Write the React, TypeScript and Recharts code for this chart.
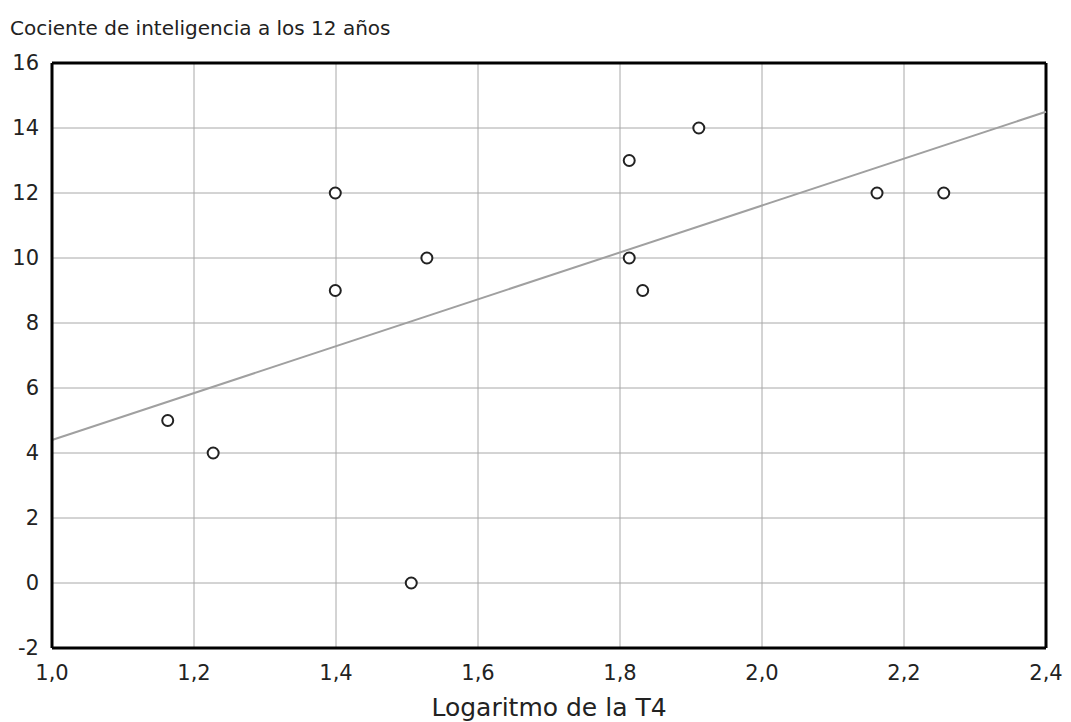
import {
  ScatterChart,
  Scatter,
  XAxis,
  YAxis,
  CartesianGrid,
  ReferenceLine,
} from 'recharts';

const logT4 = [1.163, 1.227, 1.399, 1.399, 1.506, 1.528, 1.813, 1.813, 1.832, 1.911, 2.162, 2.256];
const iq12 = [5, 4, 12, 9, 0, 10, 13, 10, 9, 14, 12, 12];

const xTicks = [1.0, 1.2, 1.4, 1.6, 1.8, 2.0, 2.2, 2.4];
const yTicks = [-2, 0, 2, 4, 6, 8, 10, 12, 14, 16];

// fitted line at both ends
const fitStart = { x: 1.0, y: 4.4 };
const fitEnd = { x: 2.4, y: 14.5 };

const FONT = '"DejaVu Sans", Verdana, sans-serif';
const GRID = '#a8a8a8';
const FRAME = '#000';
const TEXT = '#222';

const points = logT4.map((x, i) => ({ x, y: iq12[i] }));

const fmt = (v: number) => v.toFixed(1).replace('.', ',');

function Ring(props: any) {
  const { cx, cy } = props;
  return <circle cx={cx} cy={cy} r={5.5} fill="#fff" stroke="#222" strokeWidth={2} />;
}

export default function App() {
  return (
    <div style={{ position: 'absolute', left: 0, top: 0, width: 1071, height: 722, background: '#fff', fontFamily: FONT }}>
      <div style={{ position: 'absolute', left: 10, top: 16, fontSize: 20, color: TEXT, fontFamily: FONT }}>
        Cociente de inteligencia a los 12 años
      </div>
      <ScatterChart width={1071} height={722} margin={{ top: 63, right: 25, left: 0, bottom: 0 }}>
        <CartesianGrid stroke={GRID} strokeWidth={1} />
        <XAxis
          type="number"
          dataKey="x"
          domain={[1.0, 2.4]}
          ticks={xTicks}
          tickFormatter={fmt}
          tickSize={0}
          tickMargin={17}
          height={74}
          axisLine={{ stroke: FRAME, strokeWidth: 3 }}
          tick={{ fill: TEXT, fontSize: 21, fontFamily: FONT }}
          label={{ value: 'Logaritmo de la T4', position: 'insideBottom', offset: 6, fill: TEXT, fontSize: 25, fontFamily: FONT }}
          interval={0}
          allowDataOverflow
        />
        <YAxis
          type="number"
          dataKey="y"
          domain={[-2, 16]}
          ticks={yTicks}
          width={52}
          tickSize={0}
          tickMargin={13}
          interval={0}
          axisLine={{ stroke: FRAME, strokeWidth: 3 }}
          tick={{ fill: TEXT, fontSize: 21, fontFamily: FONT }}
          allowDataOverflow
        />
        <ReferenceLine y={16} stroke={FRAME} strokeWidth={3} ifOverflow="visible" />
        <ReferenceLine x={2.4} stroke={FRAME} strokeWidth={3} ifOverflow="visible" />
        <ReferenceLine
          segment={[fitStart, fitEnd]}
          stroke="#a0a0a0"
          strokeWidth={2}
          ifOverflow="visible"
        />
        <Scatter data={points} shape={<Ring />} isAnimationActive={false} />
      </ScatterChart>
    </div>
  );
}
